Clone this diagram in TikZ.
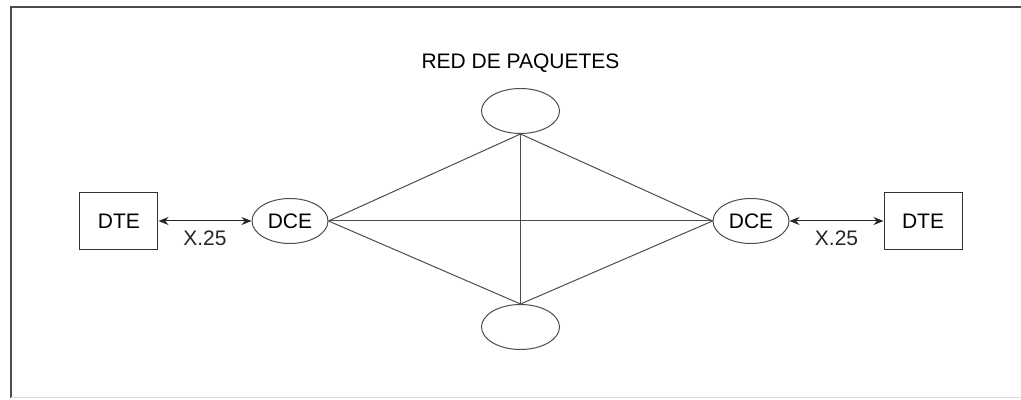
\documentclass[tikz,border=0pt]{standalone}
\usepackage{fontspec}
\setmainfont{Liberation Sans}
\usetikzlibrary{shapes.geometric, arrows.meta, positioning, calc}

\begin{document}
\begin{tikzpicture}[
    font=\fontsize{10.5}{12}\selectfont,
    >={Stealth[length=5pt, width=4pt]},
    line width=0.5pt,
    dte/.style={rectangle, draw=black!80, minimum width=39pt, minimum height=28.5pt},
    dce/.style={ellipse, draw=black!70, minimum width=38pt, minimum height=22.5pt, inner sep=1pt},
    nodo/.style={dce, minimum width=39pt},
    enlace/.style={draw=black!70},
    x25/.style={<->, black!85}
]

% Frame
\useasboundingbox (-145pt,-89.5pt) rectangle (365.5pt,110.5pt);
\draw[black!70, line width=0.8pt] (365.5pt,107pt) -- (-139.5pt,107pt) -- (-139.5pt,-88.5pt);
\draw[black!15] (-139.5pt,-88.5pt) -- (365.5pt,-88.5pt);

% Access side
\node[dce] (dce_l) at (0,0) {DCE};
\node[dte, left=46.5pt of dce_l] (dte_l) {DTE};
\node[dce, right=192pt of dce_l] (dce_r) {DCE};
\node[dte, right=47pt of dce_r] (dte_r) {DTE};

% Packet network
\node[nodo] (n_top) at ($(dce_l)!0.5!(dce_r)+(0,55pt)$) {};
\node[nodo] (n_bot) at ($(dce_l)!0.5!(dce_r)+(0,-53pt)$) {};
\node[above=4pt of n_top] (red) {RED DE PAQUETES};

% X.25 links
\draw[x25] (dte_l) -- (dce_l) node[midway, below=1.5pt] {X.25};
\draw[x25] (dce_r) -- (dte_r) node[midway, below=1.5pt] {X.25};

% Network links
\draw[enlace] (dce_l.east) -- (n_top.south);
\draw[enlace] (dce_l.east) -- (n_bot.north);
\draw[enlace] (dce_l.east) -- (dce_r.west);
\draw[enlace] (n_top.south) -- (n_bot.north);
\draw[enlace] (dce_r.west) -- (n_top.south);
\draw[enlace] (dce_r.west) -- (n_bot.north);

\end{tikzpicture}
\end{document}
